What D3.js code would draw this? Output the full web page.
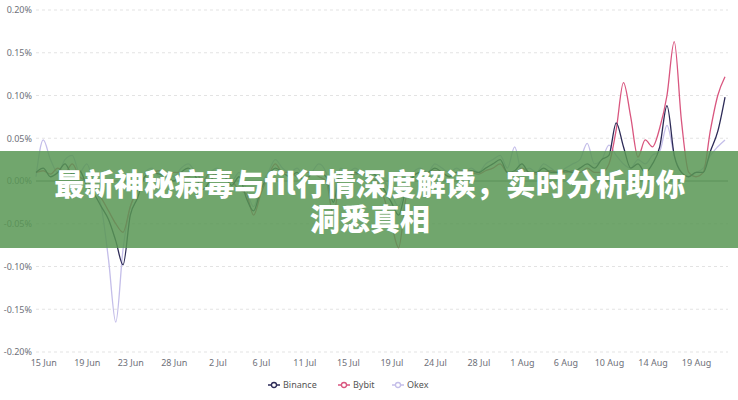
<!DOCTYPE html>
<html>
<head>
<meta charset="utf-8">
<script src="https://cdn.jsdelivr.net/npm/d3@7/dist/d3.min.js"></script>
<style>
  html, body { margin: 0; padding: 0; background: #fff; }
  svg { display: block; }
</style>
</head>
<body>
<svg id="chart" width="738" height="400"></svg>
<script>
// ---------------- data ----------------
const xLabels = ["15 Jun","19 Jun","23 Jun","28 Jun","2 Jul","6 Jul","11 Jul","15 Jul",
                 "19 Jul","24 Jul","28 Jul","1 Aug","6 Aug","10 Aug","14 Aug","19 Aug"];
const labelStep = 6;      // points between labels
const labelOffset = 1;    // index of first label

const yTicks = [-0.20,-0.15,-0.10,-0.05,0.00,0.05,0.10,0.15,0.20];

const seriesNames = ["Binance","Bybit","Okex"];
const seriesColors = ["#2d2b57","#d9567f","#c4bee9"];

const binance = [0.010,0.015,0.005,0.010,0.020,0.008,0.012,-0.005,-0.015,-0.030,
 -0.045,-0.070,-0.098,-0.040,-0.020,0.005,0.010,0.008,0.005,0.000,
 0.010,0.015,0.005,-0.010,0.000,0.008,0.005,-0.005,0.005,-0.020,
 -0.035,-0.010,0.005,0.015,0.010,0.005,0.010,0.000,0.008,0.010,
 0.005,-0.025,0.010,0.005,0.010,0.008,0.010,0.005,-0.010,-0.025,
 -0.040,-0.010,0.005,0.010,0.010,0.015,0.010,0.005,0.010,0.010,
 0.012,0.010,0.015,0.020,0.025,0.010,0.012,0.020,0.010,0.010,
 0.015,0.010,0.010,0.012,0.010,0.015,0.020,0.015,0.025,0.030,
 0.068,0.040,0.015,0.020,0.010,0.020,0.040,0.088,0.030,0.010,
 0.005,0.010,0.010,0.035,0.058,0.098];

const bybit = [0.010,0.012,0.008,0.015,0.010,0.020,0.005,0.000,-0.010,-0.020,
 -0.035,-0.050,-0.060,-0.030,-0.010,0.005,0.010,0.012,0.005,0.010,
 0.010,0.005,0.010,0.000,0.010,0.005,0.010,0.000,-0.010,-0.015,
 -0.040,-0.015,0.005,0.020,0.010,0.010,0.005,0.010,0.010,0.005,
 0.000,-0.040,0.005,0.010,0.008,0.010,0.005,0.000,-0.020,-0.050,
 -0.078,-0.020,0.005,0.010,0.008,0.012,0.010,0.005,0.010,0.012,
 0.010,0.008,0.012,0.015,0.020,0.010,0.010,0.015,0.010,0.008,
 0.010,0.012,0.010,0.010,0.012,0.010,0.015,0.010,0.010,0.020,
 0.060,0.115,0.075,0.028,0.048,0.040,0.062,0.100,0.163,0.070,
 0.010,0.005,0.010,0.060,0.100,0.122];

const okex = [0.005,0.048,0.025,0.010,0.025,0.030,0.010,0.020,-0.005,-0.030,
 -0.092,-0.165,-0.080,-0.030,-0.010,0.010,0.015,0.005,0.010,0.005,
 0.015,0.020,0.010,0.000,0.010,0.015,0.005,0.000,0.010,-0.010,
 -0.030,-0.005,0.010,0.025,0.015,0.010,0.015,0.005,0.010,0.020,
 0.010,-0.020,0.015,0.010,0.015,0.010,0.010,0.005,0.000,-0.015,
 -0.030,-0.005,0.010,0.015,0.010,0.020,0.015,0.010,0.015,0.010,
 0.015,0.010,0.020,0.025,0.030,0.015,0.040,0.010,0.015,0.010,
 0.020,0.015,0.010,0.015,0.020,0.025,0.044,0.020,0.025,0.042,
 0.030,0.020,0.015,0.025,0.020,0.030,0.035,0.065,0.030,0.010,
 0.005,0.010,0.015,0.030,0.040,0.048];

const titleLines = ["最新神秘病毒与fil行情深度解读，实时分析助你","洞悉真相"];

// ---------------- chart ----------------
const W = 738, H = 400;
const margin = {left: 36, right: 13, top: 10, bottom: 48};
const svg = d3.select("#chart");
const allSeries = [binance, bybit, okex];
const N = binance.length;

const x = d3.scaleLinear().domain([0, N - 1]).range([margin.left, W - margin.right]);
const y = d3.scaleLinear().domain([-0.2, 0.2]).range([H - margin.bottom, margin.top]);

const fontAxis = "'Noto Sans', 'Open Sans', sans-serif";

// grid
const grid = svg.append("g");
grid.selectAll("line").data(yTicks.filter(t => Math.abs(t) > 1e-9)).join("line")
  .attr("x1", x(0)).attr("x2", W - 10)
  .attr("y1", d => y(d)).attr("y2", d => y(d))
  .attr("stroke", "#e3e3e3").attr("stroke-width", 1).attr("stroke-dasharray", "3,3");

// y axis labels
const yAxis = d3.axisLeft(y).tickValues(yTicks).tickSize(0).tickPadding(4)
  .tickFormat(d => (Math.abs(d) < 1e-9 ? 0 : d).toFixed(2) + "%");
const gy = svg.append("g").attr("transform", `translate(${x(0)},0)`).call(yAxis);
gy.select(".domain").remove();
gy.selectAll("text").attr("font-family", fontAxis).attr("font-size", 9).attr("fill", "#6e7079");

// x axis labels
const xTickVals = xLabels.map((_, i) => labelOffset + i * labelStep);
const xAxis = d3.axisBottom(x).tickValues(xTickVals).tickSize(0).tickPadding(8)
  .tickFormat((d, i) => xLabels[i]);
const gx = svg.append("g").attr("transform", `translate(0,${y(-0.2)})`).call(xAxis);
gx.select(".domain").remove();
gx.selectAll("text").attr("font-family", fontAxis).attr("font-size", 9).attr("fill", "#6e7079");

// zero line
svg.append("line").attr("x1", x(0)).attr("x2", W - 10)
  .attr("y1", y(0)).attr("y2", y(0)).attr("stroke", "#6e7079").attr("stroke-width", 1);

// lines (draw Okex first, then Bybit, then Binance on top)
const line = d3.line().x((d, i) => x(i)).y(d => y(d)).curve(d3.curveMonotoneX);
[2, 1, 0].forEach(k => {
  svg.append("path").datum(allSeries[k])
    .attr("d", line)
    .attr("fill", "none")
    .attr("stroke", seriesColors[k])
    .attr("stroke-width", 1.3)
    .attr("stroke-linejoin", "round");
});

// legend
const legendX = [268, 338, 392];
const legendY = 385;
const lg = svg.append("g");
seriesNames.forEach((name, k) => {
  const g = lg.append("g").attr("transform", `translate(${legendX[k]},${legendY})`);
  g.append("line").attr("x1", 0).attr("x2", 12).attr("y1", 0).attr("y2", 0)
    .attr("stroke", seriesColors[k]).attr("stroke-width", 1.5);
  g.append("circle").attr("cx", 6).attr("cy", 0).attr("r", 2.5)
    .attr("fill", "#fff").attr("stroke", seriesColors[k]).attr("stroke-width", 1.3);
  g.append("text").attr("x", 15).attr("y", 0).attr("dy", "0.35em")
    .attr("font-family", fontAxis).attr("font-size", 9).attr("fill", "#555")
    .text(name);
});

// banner overlay
svg.append("rect").attr("x", 0).attr("y", 151).attr("width", W).attr("height", 97)
  .attr("fill", "rgb(88,150,84)").attr("fill-opacity", 0.85);
const title = svg.append("text")
  .attr("text-anchor", "middle")
  .attr("font-family", "'Noto Sans CJK SC', 'Noto Sans', sans-serif")
  .attr("font-weight", 900).attr("font-size", 30).attr("fill", "#fff");
titleLines.forEach((t, i) => {
  title.append("tspan").attr("x", 370).attr("y", 195 + i * 35).text(t);
});
</script>
</body>
</html>
